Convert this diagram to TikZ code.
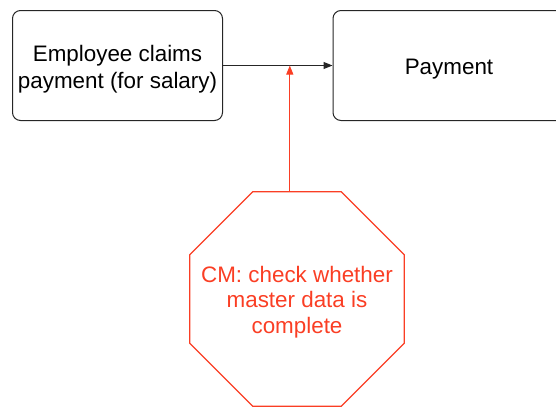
\documentclass[tikz,border=0pt]{standalone}
\usepackage{fontspec}
\setmainfont{Liberation Sans}
\usepackage{xcolor}
\usetikzlibrary{shapes.geometric}
\usetikzlibrary{arrows.meta}
\definecolor{cmred}{RGB}{250,62,36}

\begin{document}
\begin{tikzpicture}[x=1pt, y=-1pt,
		stepbox/.style={draw=black!85, line width=1pt, rounded corners=8pt, inner sep=0},
		steptext/.style={align=center, yshift=-4pt, font=\fontsize{22.4}{27}\selectfont},
		cmcheck/.style={draw=cmred, line width=1.3pt, inner sep=0,
			regular polygon, regular polygon sides=8, minimum size=232pt},
		cmtext/.style={text=cmred, align=center, yshift=-3pt, font=\fontsize{22.4}{25.5}\selectfont}]
	    		\clip (0,0) rectangle (556,407);
	    		\node[stepbox, minimum width=210pt, minimum height=110pt,
	    			label={[steptext]center:Employee claims\\payment (for salary)}] (claim) at (117.5,65.5) {};
	    		\node[stepbox, minimum width=232pt, minimum height=110pt,
	    			label={[steptext]center:Payment}] (pay) at (449,65.5) {};
	    		\node[cmcheck, label={[cmtext]center:CM: check whether\\master data is\\complete}] (check) at (297,299) {};
	    		\draw[black!85, line width=1pt, -{Triangle[length=9pt,width=7pt]}] (claim) -- coordinate[pos=0.61] (hit) (pay);
	    		\draw[cmred, line width=1pt, -{Triangle[length=9pt,width=7pt]}] (check.north -| hit) -- (hit);
	    	\end{tikzpicture}
\end{document}
